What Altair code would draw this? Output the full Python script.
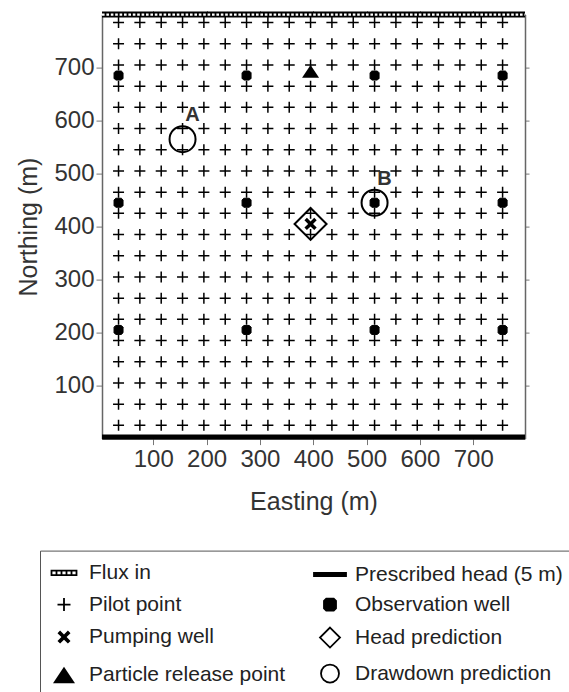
import altair as alt
import pandas as pd
from itertools import product

# ---------------- data ----------------
pilot_easting = [35, 75, 115, 155, 195, 235, 275, 315, 355, 395, 435, 475, 515, 555, 595, 635, 675, 715, 755]
pilot_northing = [25, 65, 105, 145, 185, 225, 265, 305, 345, 385, 425, 465, 505, 545, 585, 625, 665, 705, 745, 785]
obs_easting = [35, 275, 515, 755]
obs_northing = [205, 445, 685]
pumping_easting = [395]
pumping_northing = [405]
head_pred_easting = [395]
head_pred_northing = [405]
particle_easting = [395]
particle_northing = [693]
drawdown_label = ["A", "B"]
drawdown_easting = [155, 515]
drawdown_northing = [565, 445]
flux_in_northing = [800]
prescribed_northing = [3]
boundary_easting = [4, 797]
tick_values = [100, 200, 300, 400, 500, 600, 700]
easting_domain = [4, 797]
northing_domain = [0, 800]

# legend entries, listed column by column (left column first)
legend_items = ["Flux in", "Pilot point", "Pumping well", "Particle release point",
                "Prescribed head (5 m)", "Observation well", "Head prediction", "Drawdown prediction"]

# ---------------- symbols ----------------
P_PLUS = "M-1,0H1M0,-1V1"
P_OCT = "M-0.62,-1H0.62L1,-0.62V0.62L0.62,1H-0.62L-1,0.62V-0.62Z"
P_X = "M-1,-0.6L-0.6,-1L0,-0.4L0.6,-1L1,-0.6L0.4,0L1,0.6L0.6,1L0,0.4L-0.6,1L-1,0.6L-0.4,0Z"
P_DIAMOND = "M0,-1L1,0L0,1L-1,0Z"
P_TRI = "M0,-0.75L1,0.75H-1Z"
P_FLUX = "M-1,-0.18H1V0.18H-1Z M-0.6,-0.18V0.18 M-0.2,-0.18V0.18 M0.2,-0.18V0.18 M0.6,-0.18V0.18"
P_BAR = "M-1,-0.1H1V0.1H-1Z"

FONT = "Liberation Sans"

pilot_df = pd.DataFrame(list(product(pilot_easting, pilot_northing)), columns=["e", "n"])
obs_df = pd.DataFrame(list(product(obs_easting, obs_northing)), columns=["e", "n"])
pump_df = pd.DataFrame({"e": pumping_easting, "n": pumping_northing})
head_df = pd.DataFrame({"e": head_pred_easting, "n": head_pred_northing})
part_df = pd.DataFrame({"e": particle_easting, "n": particle_northing})
dd_df = pd.DataFrame({"e": drawdown_easting, "n": drawdown_northing, "label": drawdown_label})
flux_df = pd.DataFrame({"e": [boundary_easting[0]], "e2": [boundary_easting[1]], "n": flux_in_northing})
head_bc_df = pd.DataFrame({"e": [boundary_easting[0]], "e2": [boundary_easting[1]], "n": prescribed_northing})
legend_df = pd.DataFrame({"item": legend_items, "e": [395] * 8, "n": [405] * 8})

xs = alt.Scale(domain=easting_domain, nice=False, zero=False)
ys = alt.Scale(domain=northing_domain, nice=False, zero=False)

axis_common = dict(values=tick_values, grid=False, tickColor="#777", tickWidth=1,
                   domainColor="#666", domainWidth=1.5)

x_main = alt.X("e:Q", scale=xs, axis=alt.Axis(
    orient="bottom", title="Easting (m)", tickSize=6, labelPadding=3,
    labelFont=FONT, labelFontSize=24, labelColor="#333",
    titleFont=FONT, titleFontSize=25, titleFontWeight="normal", titleColor="#333",
    titleY=71, titleBaseline="alphabetic", **axis_common))
y_main = alt.Y("n:Q", scale=ys, axis=alt.Axis(
    orient="left", title="Northing (m)", tickSize=6, labelPadding=2,
    labelFont=FONT, labelFontSize=24, labelColor="#333",
    titleFont=FONT, titleFontSize=25, titleFontWeight="normal", titleColor="#333",
    titleX=-74, titleY=212, titleAngle=270, titleBaseline="middle", titleAlign="center",
    **axis_common))
x_top = alt.X("e:Q", scale=xs, axis=alt.Axis(orient="top", title=None, labels=False, tickSize=4, **axis_common))
y_right = alt.Y("n:Q", scale=ys, axis=alt.Axis(orient="right", title=None, labels=False, tickSize=4, **axis_common))
x_none = alt.X("e:Q", scale=xs, axis=None)
y_none = alt.Y("n:Q", scale=ys, axis=None)

pilot = alt.Chart(pilot_df).mark_point(shape=P_PLUS, size=121, stroke="black", strokeWidth=1.5,
                                        filled=False, opacity=1).encode(x=x_main, y=y_main)
obs = alt.Chart(obs_df).mark_point(shape=P_OCT, size=81, filled=True, fill="black", stroke="black",
                                    strokeWidth=1, opacity=1).encode(x=x_top, y=y_right)
pump = alt.Chart(pump_df).mark_point(shape=P_X, size=150, filled=True, fill="black", opacity=1,
                                      strokeWidth=0).encode(x=x_none, y=y_none)
head = alt.Chart(head_df).mark_point(shape=P_DIAMOND, size=1024, filled=False, stroke="black",
                                      strokeWidth=2, opacity=1).encode(x=x_none, y=y_none)
part = alt.Chart(part_df).mark_point(shape=P_TRI, size=289, filled=True, fill="black", opacity=1,
                                      strokeWidth=0).encode(x=x_none, y=y_none)
dd = alt.Chart(dd_df).mark_point(shape="circle", size=676, filled=False, stroke="black",
                                  strokeWidth=2, opacity=1).encode(x=x_none, y=y_none)
dd_text = alt.Chart(dd_df).mark_text(font=FONT, fontSize=20, fontWeight="bold", color="#333",
                                      dx=10, dy=-24, align="center", baseline="middle").encode(
    x=x_none, y=y_none, text="label:N")

flux_black = alt.Chart(flux_df).mark_rule(color="black", strokeWidth=6).encode(
    x=x_none, x2="e2:Q", y=y_none)
flux_white = alt.Chart(flux_df).mark_rule(color="white", strokeWidth=2.4, strokeDash=[2.6, 1.8]).encode(
    x=x_none, x2="e2:Q", y=y_none)
bc_line = alt.Chart(head_bc_df).mark_rule(color="black", strokeWidth=5).encode(
    x=x_none, x2="e2:Q", y=y_none)

legend_paths = [P_FLUX, P_PLUS, P_X, P_TRI, P_BAR, P_OCT, P_DIAMOND, "circle"]
legend_fills = ["white", "transparent", "black", "black", "black", "black", "transparent", "transparent"]
legend_strokes = ["black", "black", "transparent", "transparent", "black", "black", "black", "black"]
legend_sizes = [625, 169, 169, 484, 1024, 144, 400, 324]

leg = alt.Legend(title=None, orient="none", legendX=-62, legendY=536, columns=2, direction="vertical",
                 columnPadding=24, rowPadding=8.5, padding=7, labelOffset=8,
                 labelFont=FONT, labelFontSize=21, labelColor="#222", labelLimit=400,
                 strokeColor="#555", fillColor="white",
                 symbolStrokeWidth=1.8, symbolOpacity=1)

legend_layer = alt.Chart(legend_df).mark_point(filled=True, opacity=0).encode(
    x=x_none, y=y_none,
    shape=alt.Shape("item:N", scale=alt.Scale(domain=legend_items, range=legend_paths), legend=leg),
    fill=alt.Fill("item:N", scale=alt.Scale(domain=legend_items, range=legend_fills), legend=leg),
    stroke=alt.Stroke("item:N", scale=alt.Scale(domain=legend_items, range=legend_strokes), legend=leg),
    size=alt.Size("item:N", scale=alt.Scale(type="ordinal", domain=legend_items, range=legend_sizes), legend=leg),
)

chart = alt.layer(
    pilot, obs, pump, head, part, dd, dd_text, flux_black, flux_white, bc_line, legend_layer
).resolve_axis(x="independent", y="independent").properties(
    width=423, height=424,
    autosize=alt.AutoSizeParams(type="none"),
    padding={"left": 102, "top": 14.6, "right": 44, "bottom": 253.4},
).configure_view(stroke=None).configure(background="white")

chart.save("out.html", embed_options={"renderer": "svg", "actions": False})
